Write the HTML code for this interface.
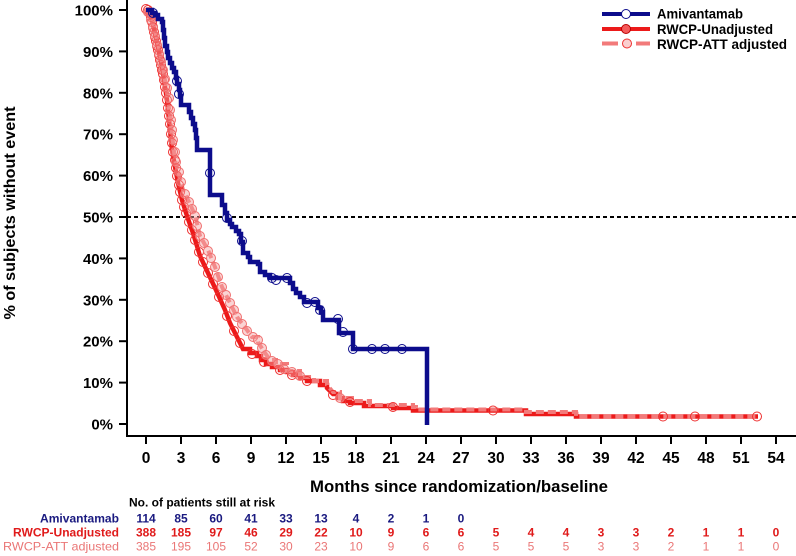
<!DOCTYPE html>
<html><head><meta charset="utf-8"><style>
html,body{margin:0;padding:0;background:#fff;}
svg{display:block;}
text{font-family:"Liberation Sans",Arial,sans-serif;}
</style></head><body>
<svg width="796" height="556" viewBox="0 0 796 556" xmlns="http://www.w3.org/2000/svg">
<rect width="796" height="556" fill="#fff"/>
<!-- axes -->
<line x1="127" y1="0" x2="127" y2="437" stroke="#000" stroke-width="2"/>
<line x1="126" y1="436" x2="796" y2="436" stroke="#000" stroke-width="2"/>
<g stroke="#000" stroke-width="2">
<line x1="119" y1="10" x2="127" y2="10"/><line x1="119" y1="51.4" x2="127" y2="51.4"/><line x1="119" y1="92.8" x2="127" y2="92.8"/><line x1="119" y1="134.2" x2="127" y2="134.2"/><line x1="119" y1="175.6" x2="127" y2="175.6"/><line x1="119" y1="217" x2="127" y2="217"/><line x1="119" y1="258.4" x2="127" y2="258.4"/><line x1="119" y1="299.8" x2="127" y2="299.8"/><line x1="119" y1="341.2" x2="127" y2="341.2"/><line x1="119" y1="382.6" x2="127" y2="382.6"/><line x1="119" y1="424" x2="127" y2="424"/>
<line x1="146" y1="436" x2="146" y2="444"/><line x1="181" y1="436" x2="181" y2="444"/><line x1="216" y1="436" x2="216" y2="444"/><line x1="251" y1="436" x2="251" y2="444"/><line x1="286" y1="436" x2="286" y2="444"/><line x1="321" y1="436" x2="321" y2="444"/><line x1="356" y1="436" x2="356" y2="444"/><line x1="391" y1="436" x2="391" y2="444"/><line x1="426" y1="436" x2="426" y2="444"/><line x1="461" y1="436" x2="461" y2="444"/><line x1="496" y1="436" x2="496" y2="444"/><line x1="531" y1="436" x2="531" y2="444"/><line x1="566" y1="436" x2="566" y2="444"/><line x1="601" y1="436" x2="601" y2="444"/><line x1="636" y1="436" x2="636" y2="444"/><line x1="671" y1="436" x2="671" y2="444"/><line x1="706" y1="436" x2="706" y2="444"/><line x1="741" y1="436" x2="741" y2="444"/><line x1="776" y1="436" x2="776" y2="444"/>
</g>
<g font-size="15" font-weight="bold" text-anchor="end" fill="#000">
<text x="113" y="15.5">100%</text><text x="113" y="56.9">90%</text><text x="113" y="98.3">80%</text><text x="113" y="139.7">70%</text><text x="113" y="181.1">60%</text><text x="113" y="222.5">50%</text><text x="113" y="263.9">40%</text><text x="113" y="305.3">30%</text><text x="113" y="346.7">20%</text><text x="113" y="388.1">10%</text><text x="113" y="429.5">0%</text>
</g>
<g font-size="15.5" font-weight="bold" text-anchor="middle" fill="#000">
<text x="146" y="463">0</text><text x="181" y="463">3</text><text x="216" y="463">6</text><text x="251" y="463">9</text><text x="286" y="463">12</text><text x="321" y="463">15</text><text x="356" y="463">18</text><text x="391" y="463">21</text><text x="426" y="463">24</text><text x="461" y="463">27</text><text x="496" y="463">30</text><text x="531" y="463">33</text><text x="566" y="463">36</text><text x="601" y="463">39</text><text x="636" y="463">42</text><text x="671" y="463">45</text><text x="706" y="463">48</text><text x="741" y="463">51</text><text x="776" y="463">54</text>
</g>
<text x="310" y="492" font-size="17" font-weight="bold" textLength="298" lengthAdjust="spacingAndGlyphs">Months since randomization/baseline</text>
<text transform="translate(15,213) rotate(-90)" text-anchor="middle" font-size="16" font-weight="bold" textLength="213" lengthAdjust="spacingAndGlyphs">% of subjects without event</text>

<!-- 50% reference -->
<line x1="127" y1="217" x2="796" y2="217" stroke="#000" stroke-width="2" stroke-dasharray="4 3"/>

<!-- RWCP-Unadjusted solid -->
<path d="M146,9 L152,20 L157,43 L162,67 L167,100 L172,150 L178,183 L182,200 L187,216 L193,233 L200,256 L208,273 L216,290 L225,310 L230,323 L237,337 L243,349 H250 V353 H257 V356 H261 V360 H266 V364 H272 V367 H280 V370 H287 V372 H293 V375 H300 V378 H307 V381 H320 V385 H327 V388 L333,394 H338 V398 H343 V401 H350 V403 H364 V406 H393 V408 H413 V410.5 H526 V414 H576 V416.5 H758" fill="none" stroke="#ec1a1a" stroke-width="4.5" stroke-linejoin="miter"/>
<!-- RWCP-ATT dashed -->
<path d="M146,9 L152,19 L158,43 L163,67 L168,100 L175,160 L183,190 L190,204 L195,215 L200,236 L208,250 L215,267 L222,287 L230,303 L237,317 L247,330 L252,337 H258 V342 L263,350 L270,360 H276 V364 H287 V371 H300 V377 H314 V381 H327 V385 L333,392 H340 V398 H352 V401 H370 V405 H413 V407 H416 V409.5 H526 V412 H576 V416.5 H758" fill="none" stroke="#f27a7a" stroke-width="4" stroke-dasharray="8 4"/>

<!-- red circles -->
<g fill="none" stroke="#ee3030" stroke-width="1">
<circle cx="146" cy="9" r="4.5"/><circle cx="148" cy="10" r="4.5"/><circle cx="150" cy="13" r="4.5"/><circle cx="151" cy="17" r="4.5"/><circle cx="152" cy="22" r="4.5"/><circle cx="153" cy="27" r="4.5"/><circle cx="154" cy="32" r="4.5"/><circle cx="155" cy="37" r="4.5"/><circle cx="156" cy="41" r="4.5"/><circle cx="157" cy="46" r="4.5"/><circle cx="158" cy="50" r="4.5"/><circle cx="159" cy="55" r="4.5"/><circle cx="160" cy="60" r="4.5"/><circle cx="161" cy="65" r="4.5"/><circle cx="162" cy="70" r="4.5"/><circle cx="163" cy="74" r="4.5"/><circle cx="164" cy="80" r="4.5"/><circle cx="165" cy="87" r="4.5"/><circle cx="166" cy="93" r="4.5"/><circle cx="167" cy="100" r="4.5"/><circle cx="168" cy="108" r="4.5"/><circle cx="169" cy="116" r="4.5"/><circle cx="170" cy="124" r="4.5"/><circle cx="171" cy="134" r="4.5"/><circle cx="172" cy="143" r="4.5"/><circle cx="173" cy="152" r="4.5"/><circle cx="175" cy="160" r="4.5"/><circle cx="176" cy="168" r="4.5"/><circle cx="177" cy="176" r="4.5"/><circle cx="179" cy="185" r="4.5"/><circle cx="180" cy="192" r="4.5"/><circle cx="182" cy="200" r="4.5"/><circle cx="184" cy="207" r="4.5"/><circle cx="186" cy="213" r="4.5"/><circle cx="189" cy="222" r="4.5"/><circle cx="192" cy="230" r="4.5"/><circle cx="195" cy="240" r="4.5"/><circle cx="199" cy="252" r="4.5"/><circle cx="203" cy="262" r="4.5"/><circle cx="208" cy="273" r="4.5"/><circle cx="213" cy="284" r="4.5"/><circle cx="219" cy="297" r="4.5"/><circle cx="227" cy="316" r="4.5"/><circle cx="234" cy="331" r="4.5"/><circle cx="240" cy="343" r="4.5"/><circle cx="252" cy="354" r="4.5"/><circle cx="264" cy="362" r="4.5"/><circle cx="280" cy="370" r="4.5"/><circle cx="292" cy="375" r="4.5"/><circle cx="307" cy="381" r="4.5"/><circle cx="333" cy="395" r="4.5"/><circle cx="350" cy="402" r="4.5"/><circle cx="393" cy="407" r="4.5"/><circle cx="493" cy="410.5" r="4.5"/><circle cx="663" cy="416.5" r="4.5"/><circle cx="695" cy="416.5" r="4.5"/><circle cx="757" cy="416.5" r="4.5"/>
</g>
<!-- ATT circles -->
<g fill="#f5a0a0" fill-opacity="0.45" stroke="#f07070" stroke-width="1">
<circle cx="148" cy="12" r="4.5"/><circle cx="151" cy="20" r="4.5"/><circle cx="153" cy="28" r="4.5"/><circle cx="155" cy="36" r="4.5"/><circle cx="157" cy="45" r="4.5"/><circle cx="159" cy="54" r="4.5"/><circle cx="161" cy="62" r="4.5"/><circle cx="163" cy="70" r="4.5"/><circle cx="165" cy="79" r="4.5"/><circle cx="167" cy="88" r="4.5"/><circle cx="169" cy="98" r="4.5"/><circle cx="170" cy="110" r="4.5"/><circle cx="171" cy="120" r="4.5"/><circle cx="172" cy="130" r="4.5"/><circle cx="173" cy="140" r="4.5"/><circle cx="175" cy="152" r="4.5"/><circle cx="176" cy="162" r="4.5"/><circle cx="179" cy="172" r="4.5"/><circle cx="181" cy="182" r="4.5"/><circle cx="185" cy="194" r="4.5"/><circle cx="189" cy="202" r="4.5"/><circle cx="192" cy="209" r="4.5"/><circle cx="195" cy="216" r="4.5"/><circle cx="197" cy="226" r="4.5"/><circle cx="200" cy="236" r="4.5"/><circle cx="204" cy="243" r="4.5"/><circle cx="208" cy="251" r="4.5"/><circle cx="211" cy="258" r="4.5"/><circle cx="215" cy="267" r="4.5"/><circle cx="218" cy="277" r="4.5"/><circle cx="222" cy="287" r="4.5"/><circle cx="226" cy="295" r="4.5"/><circle cx="230" cy="303" r="4.5"/><circle cx="234" cy="310" r="4.5"/><circle cx="237" cy="317" r="4.5"/><circle cx="242" cy="324" r="4.5"/><circle cx="247" cy="331" r="4.5"/><circle cx="253" cy="337" r="4.5"/><circle cx="258" cy="340" r="4.5"/><circle cx="262" cy="348" r="4.5"/><circle cx="266" cy="355" r="4.5"/><circle cx="272" cy="361" r="4.5"/><circle cx="278" cy="364" r="4.5"/><circle cx="284" cy="369" r="4.5"/><circle cx="292" cy="372" r="4.5"/><circle cx="300" cy="376" r="4.5"/><circle cx="340" cy="398" r="4.5"/>
</g>

<!-- Amivantamab -->
<path d="M146,10 H152 V13 H155 V15 H158 V19 H162 V22 H163 V30 H164 V38 H165 V46 H167 V52 H168 V58 H170 V63 H172 V68 H174 V72 H176 V78 H177 V84 H179 V90 H180 V96 H181 V105 H189 V112 H191 V118 H193 V124 H195 V130 H196 V138 H197 V150 H210 V195 H222 V205 H225 V213 H227 V220 H230 V224 H232 V227 H236 V231 H239 V234 H241 V242 H243 V253 H248 V257 H250 V262 H258 V264 H260 V272 H265 V275 H270 V278 H290 V283 H293 V289 H296 V293 H300 V297 H304 V302 H318 V308 H321 V312 H323 V320 H339 V333 H353 V349 H427 V425" fill="none" stroke="#0c0c8c" stroke-width="4.5"/>
<g fill="none" stroke="#0c0c8c" stroke-width="1">
<circle cx="153" cy="13" r="4.5"/><circle cx="177" cy="81" r="4.5"/><circle cx="179" cy="94" r="4.5"/><circle cx="210" cy="173" r="4.5"/><circle cx="227" cy="218" r="4.5"/><circle cx="242" cy="241" r="4.5"/><circle cx="272" cy="278" r="4.5"/><circle cx="276" cy="280" r="4.5"/><circle cx="287" cy="278" r="4.5"/><circle cx="307" cy="303" r="4.5"/><circle cx="315" cy="302" r="4.5"/><circle cx="320" cy="310" r="4.5"/><circle cx="338" cy="319" r="4.5"/><circle cx="343" cy="332" r="4.5"/><circle cx="353" cy="349" r="4.5"/><circle cx="372" cy="349" r="4.5"/><circle cx="385" cy="349" r="4.5"/><circle cx="402" cy="349" r="4.5"/>
</g>

<!-- legend -->
<line x1="602" y1="14" x2="650" y2="14" stroke="#0c0c8c" stroke-width="4"/>
<circle cx="626" cy="14" r="4.5" fill="#fff" stroke="#0c0c8c" stroke-width="1"/>
<line x1="602" y1="29" x2="650" y2="29" stroke="#ec1a1a" stroke-width="4"/>
<circle cx="626" cy="29" r="4.5" fill="#f45a5a" stroke="#b00" stroke-width="1"/>
<line x1="602" y1="43.5" x2="618" y2="43.5" stroke="#f27a7a" stroke-width="4"/>
<line x1="636" y1="43.5" x2="650" y2="43.5" stroke="#f27a7a" stroke-width="4"/>
<circle cx="627" cy="43.5" r="4.5" fill="#f5a0a0" fill-opacity="0.5" stroke="#ee3030" stroke-width="1"/>
<g font-size="14" font-weight="bold" fill="#000">
<text x="657" y="18.5" textLength="86" lengthAdjust="spacingAndGlyphs">Amivantamab</text>
<text x="657" y="34" textLength="116" lengthAdjust="spacingAndGlyphs">RWCP-Unadjusted</text>
<text x="657" y="49" textLength="130" lengthAdjust="spacingAndGlyphs">RWCP-ATT adjusted</text>
</g>

<!-- risk table -->
<text x="129" y="506.5" font-size="12" font-weight="bold" textLength="146" lengthAdjust="spacingAndGlyphs">No. of patients still at risk</text>
<text x="40" y="522.5" font-size="12" font-weight="bold" fill="#1a1a80" textLength="79" lengthAdjust="spacingAndGlyphs">Amivantamab</text>
<text x="13" y="536.5" font-size="12" font-weight="bold" fill="#e01a1a" textLength="106" lengthAdjust="spacingAndGlyphs">RWCP-Unadjusted</text>
<text x="3" y="550.5" font-size="12" fill="#ea7676" textLength="116" lengthAdjust="spacingAndGlyphs">RWCP-ATT adjusted</text>
<g font-size="12" font-weight="bold" fill="#1a1a80" text-anchor="middle">
<text x="146" y="522.5">114</text><text x="181" y="522.5">85</text><text x="216" y="522.5">60</text><text x="251" y="522.5">41</text><text x="286" y="522.5">33</text><text x="321" y="522.5">13</text><text x="356" y="522.5">4</text><text x="391" y="522.5">2</text><text x="426" y="522.5">1</text><text x="461" y="522.5">0</text>
</g>
<g font-size="12" font-weight="bold" fill="#e01a1a" text-anchor="middle">
<text x="146" y="536.5">388</text><text x="181" y="536.5">185</text><text x="216" y="536.5">97</text><text x="251" y="536.5">46</text><text x="286" y="536.5">29</text><text x="321" y="536.5">22</text><text x="356" y="536.5">10</text><text x="391" y="536.5">9</text><text x="426" y="536.5">6</text><text x="461" y="536.5">6</text><text x="496" y="536.5">5</text><text x="531" y="536.5">4</text><text x="566" y="536.5">4</text><text x="601" y="536.5">3</text><text x="636" y="536.5">3</text><text x="671" y="536.5">2</text><text x="706" y="536.5">1</text><text x="741" y="536.5">1</text><text x="776" y="536.5">0</text>
</g>
<g font-size="12" fill="#ea7676" text-anchor="middle">
<text x="146" y="550.5">385</text><text x="181" y="550.5">195</text><text x="216" y="550.5">105</text><text x="251" y="550.5">52</text><text x="286" y="550.5">30</text><text x="321" y="550.5">23</text><text x="356" y="550.5">10</text><text x="391" y="550.5">9</text><text x="426" y="550.5">6</text><text x="461" y="550.5">6</text><text x="496" y="550.5">5</text><text x="531" y="550.5">5</text><text x="566" y="550.5">5</text><text x="601" y="550.5">3</text><text x="636" y="550.5">3</text><text x="671" y="550.5">2</text><text x="706" y="550.5">1</text><text x="741" y="550.5">1</text><text x="776" y="550.5">0</text>
</g>
</svg>
</body></html>
